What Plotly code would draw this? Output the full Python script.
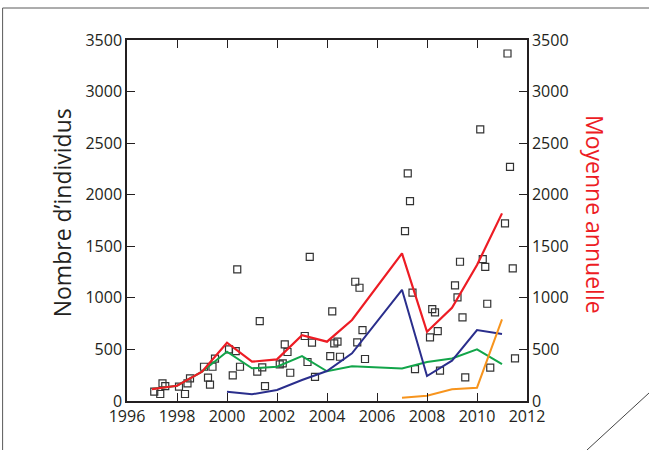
import plotly.graph_objects as go

# individual counts (open squares)
pts_year = [1997.09, 1997.33, 1997.42, 1997.53, 1998.08, 1998.32, 1998.42, 1998.52,
            1999.08, 1999.24, 1999.32, 1999.42, 1999.52,
            2000.08, 2000.23, 2000.35, 2000.41, 2000.52,
            2001.21, 2001.31, 2001.41, 2001.52,
            2002.11, 2002.23, 2002.31, 2002.42, 2002.53,
            2003.11, 2003.22, 2003.31, 2003.40, 2003.52,
            2004.13, 2004.21, 2004.29, 2004.42, 2004.52,
            2005.13, 2005.21, 2005.30, 2005.42, 2005.52,
            2007.12, 2007.23, 2007.32, 2007.42, 2007.52,
            2008.12, 2008.21, 2008.32, 2008.43, 2008.52,
            2009.12, 2009.22, 2009.32, 2009.42, 2009.53,
            2010.13, 2010.23, 2010.33, 2010.41, 2010.53,
            2011.12, 2011.22, 2011.32, 2011.43, 2011.52]
pts_count = [90, 68, 171, 145, 139, 68, 171, 220,
             332, 226, 158, 332, 410,
             501, 249, 484, 1276, 332,
             284, 775, 326, 145,
             356, 365, 549, 475, 274,
             630, 378, 1398, 565, 233,
             436, 869, 559, 575, 429,
             1156, 569, 1098, 688, 407,
             1647, 2206, 1938, 1050, 310,
             617, 891, 859, 678, 294,
             1121, 1005, 1350, 811, 230,
             2633, 1376, 1301, 943, 323,
             1722, 3369, 2270, 1286, 414]

# yearly means
red_years = [1997, 1998, 1999, 2000, 2001, 2002, 2003, 2004, 2005, 2007, 2008, 2009, 2010, 2011]
red_vals = [116, 148, 284, 565, 381, 404, 637, 575, 785, 1431, 671, 904, 1318, 1819]

green_years = [1997, 1998, 1999, 2000, 2001, 2002, 2003, 2004, 2005, 2007, 2008, 2009, 2010, 2011]
green_vals = [116, 148, 284, 478, 317, 332, 436, 288, 336, 315, 378, 413, 501, 358]

blue_years = [2000, 2001, 2002, 2003, 2004, 2005, 2007, 2008, 2009, 2010, 2011]
blue_vals = [90, 65, 107, 203, 291, 462, 1078, 242, 391, 688, 649]

orange_years = [2007, 2008, 2009, 2010, 2011]
orange_vals = [32, 52, 113, 129, 791]

font = "Open Sans"
axis_col = "#231f20"

fig = go.Figure()
fig.add_trace(go.Scatter(x=pts_year, y=pts_count, mode="markers",
                         marker=dict(symbol="square-open", size=7, color="#333333",
                                     line=dict(width=1.2))))
fig.add_trace(go.Scatter(x=green_years, y=green_vals, mode="lines",
                         line=dict(color="#12a54a", width=2)))
fig.add_trace(go.Scatter(x=blue_years, y=blue_vals, mode="lines",
                         line=dict(color="#2a2e8c", width=2)))
fig.add_trace(go.Scatter(x=orange_years, y=orange_vals, mode="lines",
                         line=dict(color="#f7941d", width=2)))
fig.add_trace(go.Scatter(x=red_years, y=red_vals, mode="lines",
                         line=dict(color="#ed1c24", width=2.2)))
# invisible trace to carry the right axis
fig.add_trace(go.Scatter(x=[1996], y=[0], yaxis="y2", mode="markers",
                         marker=dict(opacity=0), hoverinfo="skip"))

fig.update_layout(
    width=649, height=450,
    margin=dict(l=127, r=122, t=40, b=49),
    paper_bgcolor="white", plot_bgcolor="white",
    showlegend=False,
    font=dict(family=font, size=16, color=axis_col),
    xaxis=dict(range=[1996, 2012], dtick=2, tick0=1996, showgrid=False, zeroline=False,
               showline=True, linecolor=axis_col, linewidth=1.5, mirror="ticks",
               ticks="inside", ticklen=8, tickwidth=1.3, tickcolor=axis_col),
    yaxis=dict(range=[0, 3500], dtick=500, showgrid=False, zeroline=False,
               showline=True, linecolor=axis_col, linewidth=1.5,
               ticks="inside", ticklen=8, tickwidth=1.3, tickcolor=axis_col),
    yaxis2=dict(range=[0, 3500], dtick=500, overlaying="y", side="right",
                showgrid=False, zeroline=False, showline=True, linecolor=axis_col,
                linewidth=1.5, ticks="inside", ticklen=8, tickwidth=1.3,
                tickcolor=axis_col),
    annotations=[
        dict(text="Nombre d’individus", xref="paper", yref="paper", x=-0.1625, y=0.52,
             xanchor="center", yanchor="middle",
             textangle=-90, showarrow=False, font=dict(size=23, color="#231f20")),
        dict(text="Moyenne annuelle", xref="paper", yref="paper", x=1.17, y=0.518,
             xanchor="center", yanchor="middle",
             textangle=90, showarrow=False, font=dict(size=23, color="#ed1c24")),
    ],
    shapes=[
        dict(type="line", xref="paper", yref="paper", x0=-0.311, y0=1.0886, x1=1.32, y1=1.0886,
             line=dict(color="#5a5a5a", width=1)),
        dict(type="line", xref="paper", yref="paper", x0=-0.311, y0=1.0886, x1=-0.311, y1=-0.15,
             line=dict(color="#5a5a5a", width=1)),
        dict(type="line", xref="paper", yref="paper", x0=1.15, y0=-0.1357, x1=1.305, y1=0.0222,
             line=dict(color="#444444", width=1)),
    ],
)

fig.write_html("out.html", config={"displayModeBar": False},
               post_script="document.body.style.margin='0';")
